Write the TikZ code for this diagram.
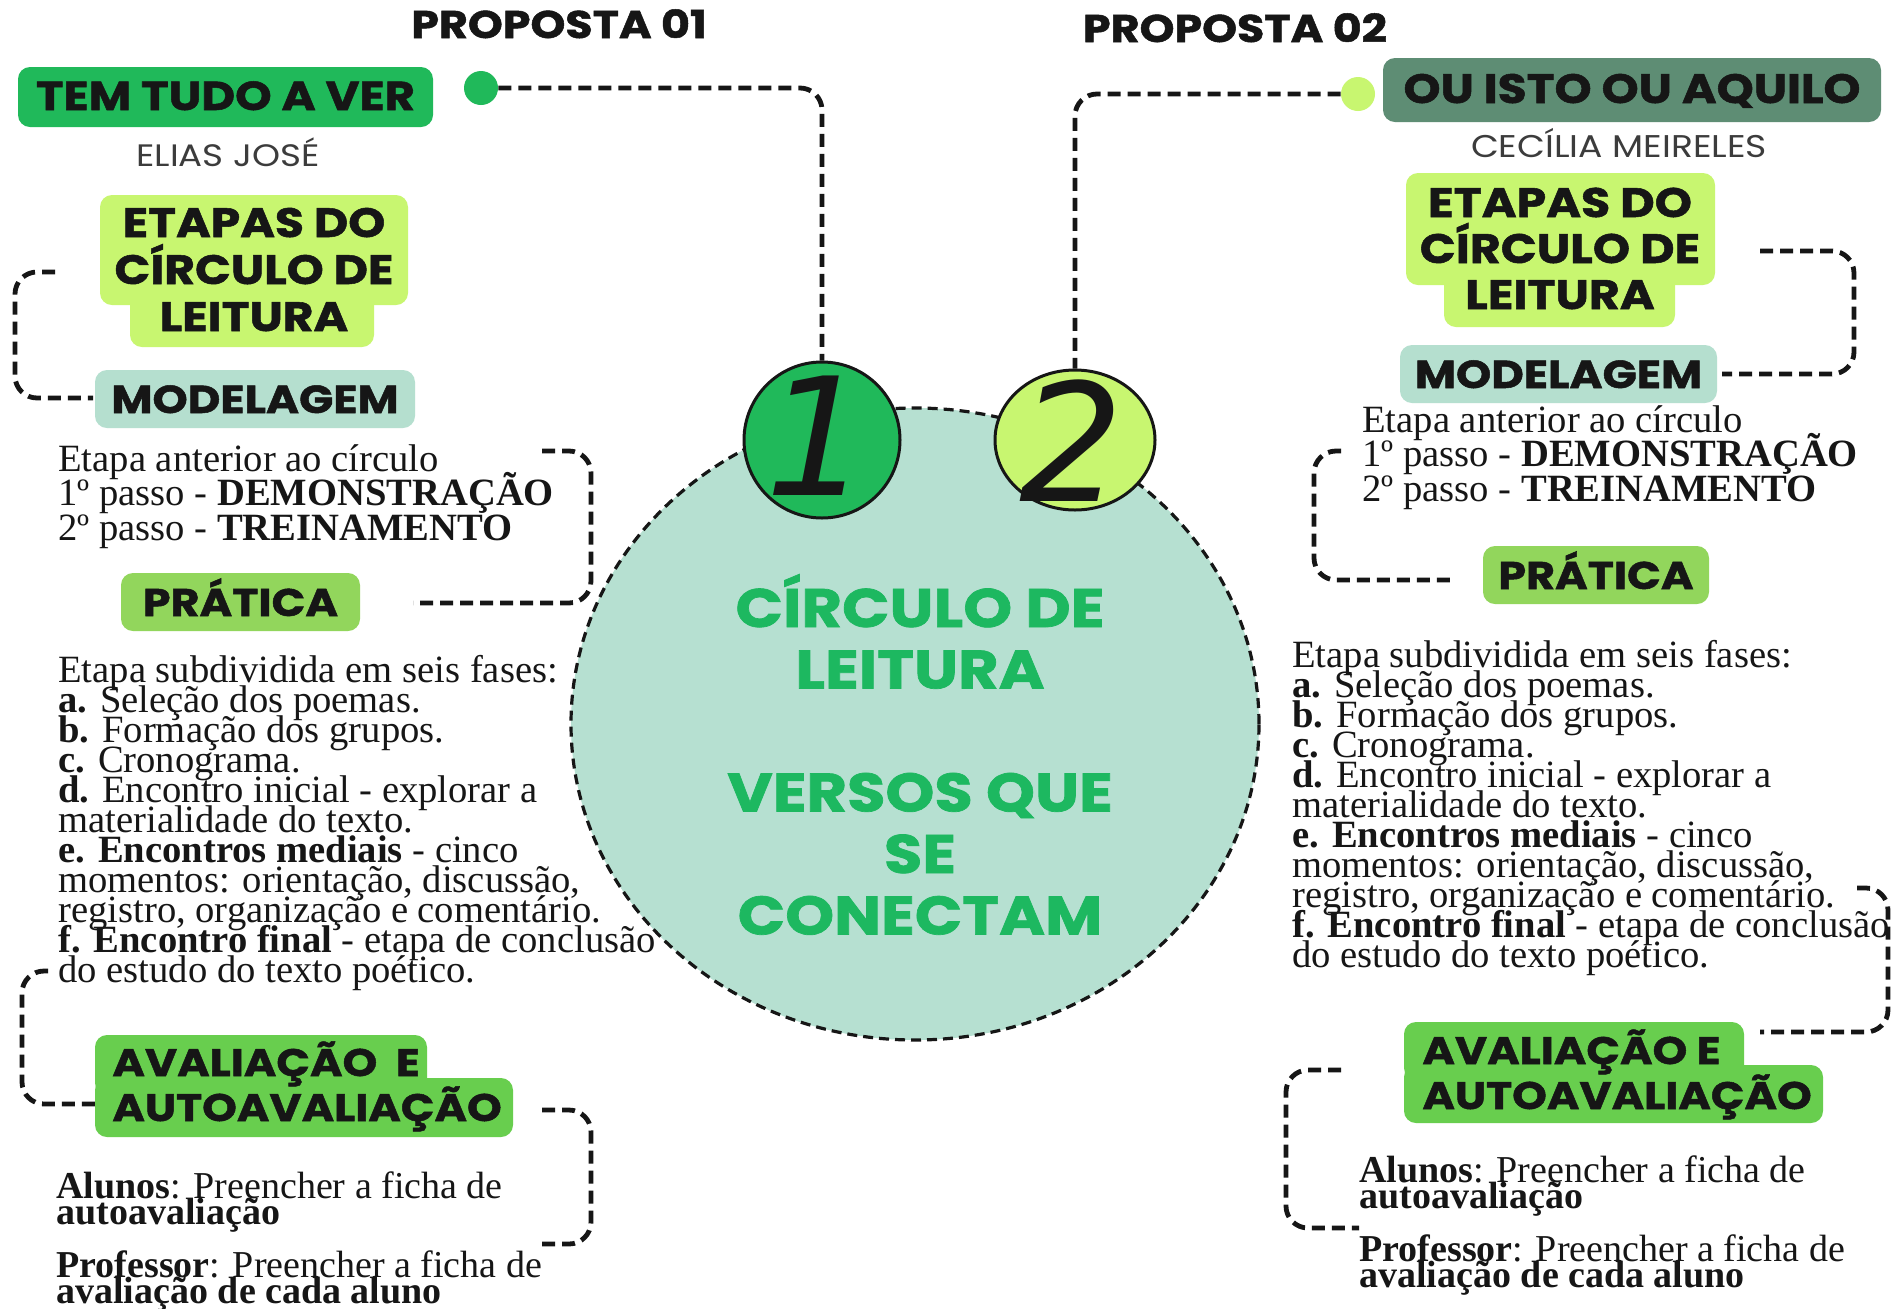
\documentclass[tikz,border=0pt]{standalone}
\usepackage{fontspec}
\setmainfont{Liberation Serif}
\newfontfamily\headf{Poppins}[FakeStretch=1.15, BoldFeatures={FakeBold=1.3}]
\newfontfamily\digitf{DejaVu Sans}
\usetikzlibrary{shapes.geometric}
\definecolor{ink}{RGB}{22,22,22}
\definecolor{mint}{RGB}{182,224,209}
\definecolor{green1}{RGB}{32,185,90}
\definecolor{lime}{RGB}{200,246,112}
\definecolor{sage}{RGB}{94,141,116}
\definecolor{modc}{RGB}{181,223,207}
\definecolor{prat}{RGB}{146,214,92}
\definecolor{aval}{RGB}{104,206,78}
\definecolor{ctext}{RGB}{29,184,96}
\definecolor{auth}{RGB}{60,60,60}
\newcommand\clines[2]{\vtop{\baselineskip=#1\lineskiplimit=-\maxdimen\lineskip=0pt\halign{\hfil##\hfil\cr#2\crcr}}}
\newcommand\llines[2]{\vtop{\baselineskip=#1\lineskiplimit=-\maxdimen\lineskip=0pt\halign{##\hfil\cr#2\crcr}}}
\begin{document}
\begin{tikzpicture}[x=0.5pt,y=-0.5pt,
  hd/.style={font=\headf\bfseries\fontsize{#1}{#1}\selectfont, text=ink, inner sep=0pt, anchor=base},
  auth/.style={font=\headf\fontsize{#1}{#1}\selectfont, text=auth, inner sep=0pt, anchor=base},
  box/.style={rectangle, rounded corners=6pt, inner sep=0pt},
  serif/.style={font=\fontsize{19.3pt}{19.3pt}\selectfont, text=ink, inner sep=0pt, anchor=base west},
  serifb/.style={font=\fontsize{19pt}{19pt}\selectfont, text=ink, inner sep=0pt, anchor=base west},
  conn/.style={draw=ink, line width=2.4pt, dash pattern=on 6.5pt off 3.5pt, rounded corners=11pt},
  dig/.style={font=\digitf\itshape\fontsize{82pt}{82pt}\selectfont, text=ink, inner sep=0pt}]
\fill[white] (0,0) rectangle (1903,1308);
\useasboundingbox (0,0) rectangle (1903,1308);

% central ellipse
\node[ellipse, draw=ink, fill=mint, line width=1.6pt, dash pattern=on 5pt off 3pt, minimum width=344pt, minimum height=316pt, inner sep=0pt] (main) at (915,724) {};

% dots and badges
\node[circle, fill=green1, minimum size=17pt, inner sep=0pt] (dot1) at (481,88) {};
\node[circle, fill=lime, minimum size=17pt, inner sep=0pt] (dot2) at (1358,94) {};
\node[circle, draw=ink, fill=green1, line width=1.5pt, minimum size=78pt, inner sep=0pt] (c1) at (822,440) {};
\node[ellipse, draw=ink, fill=lime, line width=1.5pt, minimum width=80pt, minimum height=70pt, inner sep=0pt] (c2) at (1075,440) {};
\draw[conn] (dot1.east) -| (c1.north);
\draw[conn] (dot2.west) -| (c2.north);
\node[dig] (n1) at (818,436) {1};
\node[dig] (n2) at (1072,441) {2};

% titles
\node[hd=19.3pt] (p1) at (559,38) {PROPOSTA 01};
\node[hd=19.3pt] (p2) at (1235,42) {PROPOSTA 02};

% ---------- left column boxes
\node[box, fill=green1, minimum width=207.5pt, minimum height=30pt] (tem) at (225.5,97) {};
\node[box, fill=lime, minimum width=154pt, minimum height=55pt] (etL) at (254,250) {};
\node[box, fill=lime, minimum width=122pt, minimum height=28.5pt] (etL2) at (252,318.5) {};
\node[box, fill=modc, minimum width=160pt, minimum height=29pt] (modL) at (255,399) {};
\node[box, fill=prat, minimum width=119.5pt, minimum height=29pt] (praL) at (240.5,602) {};
\node[box, fill=aval, minimum width=166pt, minimum height=30pt] (avaL) at (261,1065) {};
\node[box, fill=aval, minimum width=209pt, minimum height=29.5pt] (avaL2) at (304,1107.5) {};

\node[hd=20.2pt] (temT) at (225.5,110) {TEM TUDO A VER};
\node[auth=15.5pt] (elias) at (228,166) {ELIAS JOSÉ};
\node[hd=20.5pt] (etLT) at (254,237) {\clines{23.5pt}{ETAPAS DO\cr CÍRCULO DE\cr LEITURA}};
\node[hd=19.5pt] (modLT) at (255,413) {MODELAGEM};
\node[hd=19.3pt] (praLT) at (240.5,616) {PRÁTICA};
\node[hd=19.2pt, anchor=base west] (avaLT) at (112,1076) {\llines{22.5pt}{AVALIAÇÃO\ \ E\cr AUTOAVALIAÇÃO}};

\node[serif] (b1L) at (58,471) {\llines{17.25pt}{Etapa anterior ao círculo\cr 1º passo - \textbf{DEMONSTRAÇÃO}\cr 2º passo - \textbf{TREINAMENTO}}};
\node[serif] (b2L) at (58,682) {\llines{15pt}{Etapa subdividida em seis fases:\cr
\textbf{a.} Seleção dos poemas.\cr
\textbf{b.} Formação dos grupos.\cr
\textbf{c.} Cronograma.\cr
\textbf{d.} Encontro inicial - explorar a\cr
materialidade do texto.\cr
\textbf{e. Encontros mediais} - cinco\cr
momentos: orientação, discussão,\cr
registro, organização e comentário.\cr
\textbf{f. Encontro final} - etapa de conclusão\cr
do estudo do texto poético.}};
\node[serifb] (alL) at (56,1198) {\llines{13pt}{\textbf{Alunos}: Preencher a ficha de\cr \textbf{autoavaliação}}};
\node[serifb] (proL) at (56,1277) {\llines{13pt}{\textbf{Professor}: Preencher a ficha de\cr \textbf{avaliação de cada aluno}}};

% left brackets
\coordinate (l1a) at (55,272);  \coordinate (l1b) at (93,398);
\coordinate (l2a) at (542,451); \coordinate (l2b) at (413,603);
\coordinate (l3a) at (48,971);  \coordinate (l3b) at (95,1104);
\coordinate (l4a) at (542,1110);\coordinate (l4b) at (542,1244);
\draw[conn] (l1a) -- (15,272) -- (15,398) -- (l1b);
\draw[conn] (l2a) -- (591,451) -- (591,603) -- (l2b);
\draw[conn] (l3a) -- (22,971) -- (22,1104) -- (l3b);
\draw[conn] (l4a) -- (591,1110) -- (591,1244) -- (l4b);

% ---------- right column boxes
\node[box, fill=sage, minimum width=249pt, minimum height=32pt] (ou) at (1632,90) {};
\node[box, fill=lime, minimum width=154.5pt, minimum height=56pt] (etR) at (1560.5,229) {};
\node[box, fill=lime, minimum width=115.5pt, minimum height=28.5pt] (etR2) at (1559.5,298.5) {};
\node[box, fill=modc, minimum width=158.5pt, minimum height=29pt] (modR) at (1558.5,374) {};
\node[box, fill=prat, minimum width=113pt, minimum height=29pt] (praR) at (1596,575) {};
\node[box, fill=aval, minimum width=170pt, minimum height=29pt] (avaR) at (1574,1051) {};
\node[box, fill=aval, minimum width=209.5pt, minimum height=29pt] (avaR2) at (1613.5,1094) {};

\node[hd=20.5pt] (ouT) at (1632,103) {OU ISTO OU AQUILO};
\node[auth=15.7pt] (cec) at (1619,157) {CECÍLIA MEIRELES};
\node[hd=20.6pt] (etRT) at (1560,217) {\clines{23pt}{ETAPAS DO\cr CÍRCULO DE\cr LEITURA}};
\node[hd=19.5pt] (modRT) at (1558.5,388) {MODELAGEM};
\node[hd=19.3pt] (praRT) at (1596,589) {PRÁTICA};
\node[hd=19.2pt, anchor=base west] (avaRT) at (1422,1064) {\llines{22.5pt}{AVALIAÇÃO E\cr AUTOAVALIAÇÃO}};

\node[serif] (b1R) at (1362,432) {\llines{17.25pt}{Etapa anterior ao círculo\cr 1º passo - \textbf{DEMONSTRAÇÃO}\cr 2º passo - \textbf{TREINAMENTO}}};
\node[serif] (b2R) at (1292,667) {\llines{15pt}{Etapa subdividida em seis fases:\cr
\textbf{a.} Seleção dos poemas.\cr
\textbf{b.} Formação dos grupos.\cr
\textbf{c.} Cronograma.\cr
\textbf{d.} Encontro inicial - explorar a\cr
materialidade do texto.\cr
\textbf{e. Encontros mediais} - cinco\cr
momentos: orientação, discussão,\cr
registro, organização e comentário.\cr
\textbf{f. Encontro final} - etapa de conclusão\cr
do estudo do texto poético.}};
\node[serifb] (alR) at (1359,1182) {\llines{13pt}{\textbf{Alunos}: Preencher a ficha de\cr \textbf{autoavaliação}}};
\node[serifb] (proR) at (1359,1261) {\llines{13pt}{\textbf{Professor}: Preencher a ficha de\cr \textbf{avaliação de cada aluno}}};

% right brackets
\coordinate (r1a) at (1760,251); \coordinate (r1b) at (1722,374);
\coordinate (r2a) at (1341,451); \coordinate (r2b) at (1456,580);
\coordinate (r3a) at (1857,888); \coordinate (r3b) at (1760,1032);
\coordinate (r4a) at (1341,1070);\coordinate (r4b) at (1359,1228);
\draw[conn] (r1a) -- (1854,251) -- (1854,374) -- (r1b);
\draw[conn] (r2a) -- (1314,451) -- (1314,580) -- (r2b);
\draw[conn] (r3a) -- (1888,888) -- (1888,1032) -- (r3b);
\draw[conn] (r4a) -- (1286,1070) -- (1286,1228) -- (r4b);

% centre text
\node[hd=27.1pt, text=ctext] (ctr) at (920,627) {\clines{30.75pt}{CÍRCULO DE\cr LEITURA\cr \cr VERSOS QUE\cr SE\cr CONECTAM}};
\end{tikzpicture}
\end{document}
